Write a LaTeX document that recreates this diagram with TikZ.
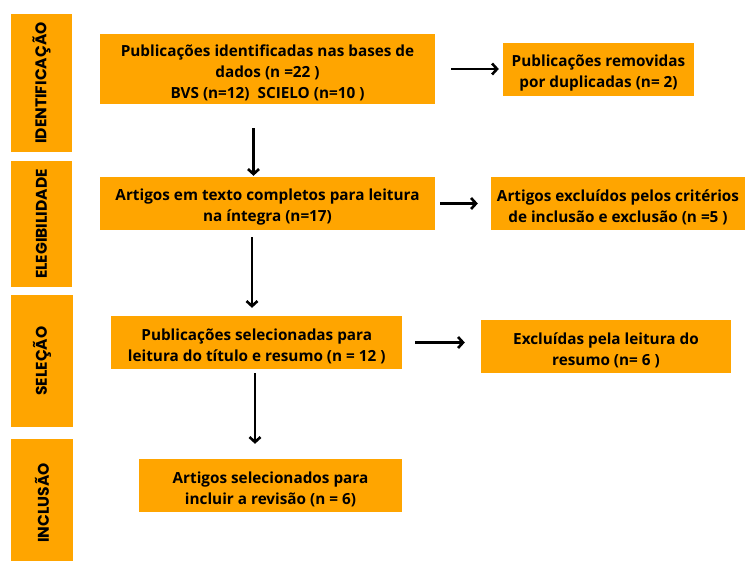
\documentclass[tikz,border=0pt]{standalone}
\usepackage{fontspec}
\usetikzlibrary{arrows.meta}
\newfontfamily\boxfont{Open Sans}
\newfontfamily\sidefont{Poppins}
\definecolor{flowOrange}{RGB}{255,165,0}
% taller first line, so the text block sits a little lower in its box
\newcommand\leadstrut{\rule{0pt}{19.5bp}}
\tikzset{
  stagebox/.style={fill=flowOrange, inner sep=0pt, align=center,
    font=\boxfont\bfseries\fontsize{15.3bp}{21bp}\selectfont},
  sidebar/.style={fill=flowOrange, inner sep=0pt, rotate=90,
    font=\sidefont\bfseries\fontsize{15.5bp}{18bp}\selectfont},
  flowarrow/.style={line width=2.6bp,
    -{Straight Barb[length=5bp,width=11bp,line width=2.6bp]}},
}
\begin{document}
\begin{tikzpicture}[x=1bp,y=-1bp]
\useasboundingbox (0,0) rectangle (745,561);

% phase bars on the left
\node[sidebar, minimum width=138bp, minimum height=61bp] (s1) at (41.5,83) {IDENTIFICAÇÃO};
\node[sidebar, minimum width=126bp, minimum height=61bp] (s2) at (41.5,224) {ELEGIBILIDADE};
\node[sidebar, minimum width=132bp, minimum height=62bp] (s3) at (42,361) {SELEÇÃO};
\node[sidebar, minimum width=128bp, minimum height=62bp] (s4) at (42,503) {INCLUSÃO};

% main flow
\node[stagebox, minimum width=335bp, minimum height=70bp] (b1) at (267.5,69)
  {\leadstrut Publicações identificadas nas bases de\\dados (n =22 )\\BVS (n=12)\ \ SCIELO (n=10 )};
\node[stagebox, minimum width=335bp, minimum height=53bp] (b2) at (267.5,203.5)
  {\leadstrut Artigos em texto completos para leitura\\na íntegra (n=17)};
\node[stagebox, minimum width=290.5bp, minimum height=53bp] (b3) at (256.75,342.5)
  {\leadstrut Publicações selecionadas para\\leitura do título e resumo (n = 12 )};
\node[stagebox, minimum width=263bp, minimum height=53bp] (b4) at (270.5,485.5)
  {\leadstrut Artigos selecionados para\\incluir a revisão (n = 6)};

% exclusions
\node[stagebox, minimum width=191bp, minimum height=53bp] (r1) at (598.5,69.5)
  {\leadstrut Publicações removidas\\por duplicadas (n= 2)};
\node[stagebox, minimum width=254bp, minimum height=53bp] (r2) at (618,203.5)
  {\leadstrut Artigos excluídos pelos critérios\\de inclusão e exclusão (n =5 )};
\node[stagebox, minimum width=250bp, minimum height=53bp] (r3) at (606,346.5)
  {\leadstrut Excluídas pela leitura do\\resumo (n= 6 )};

% connectors
\draw[flowarrow, shorten <=16bp, shorten >=4bp] (b1.east) -- (b1.east -| r1.west);
\draw[flowarrow, shorten <=5bp, shorten >=13bp] (b2.east) -- (b2.east -| r2.west);
\draw[flowarrow, shorten <=13bp, shorten >=16bp] (b3.east) -- (b3.east -| r3.west);

\draw[flowarrow, shorten <=24bp, shorten >=1bp] ([xshift=-14bp]b1.south) -- ([xshift=-14bp]b1.south |- b2.north);
\draw[flowarrow, shorten <=7bp, shorten >=8bp] ([xshift=-15.5bp]b2.south) -- ([xshift=-15.5bp]b2.south |- b3.north);
\draw[flowarrow, shorten <=4bp, shorten >=15bp] ([xshift=-1.75bp]b3.south) -- ([xshift=-1.75bp]b3.south |- b4.north);
\end{tikzpicture}
\end{document}
